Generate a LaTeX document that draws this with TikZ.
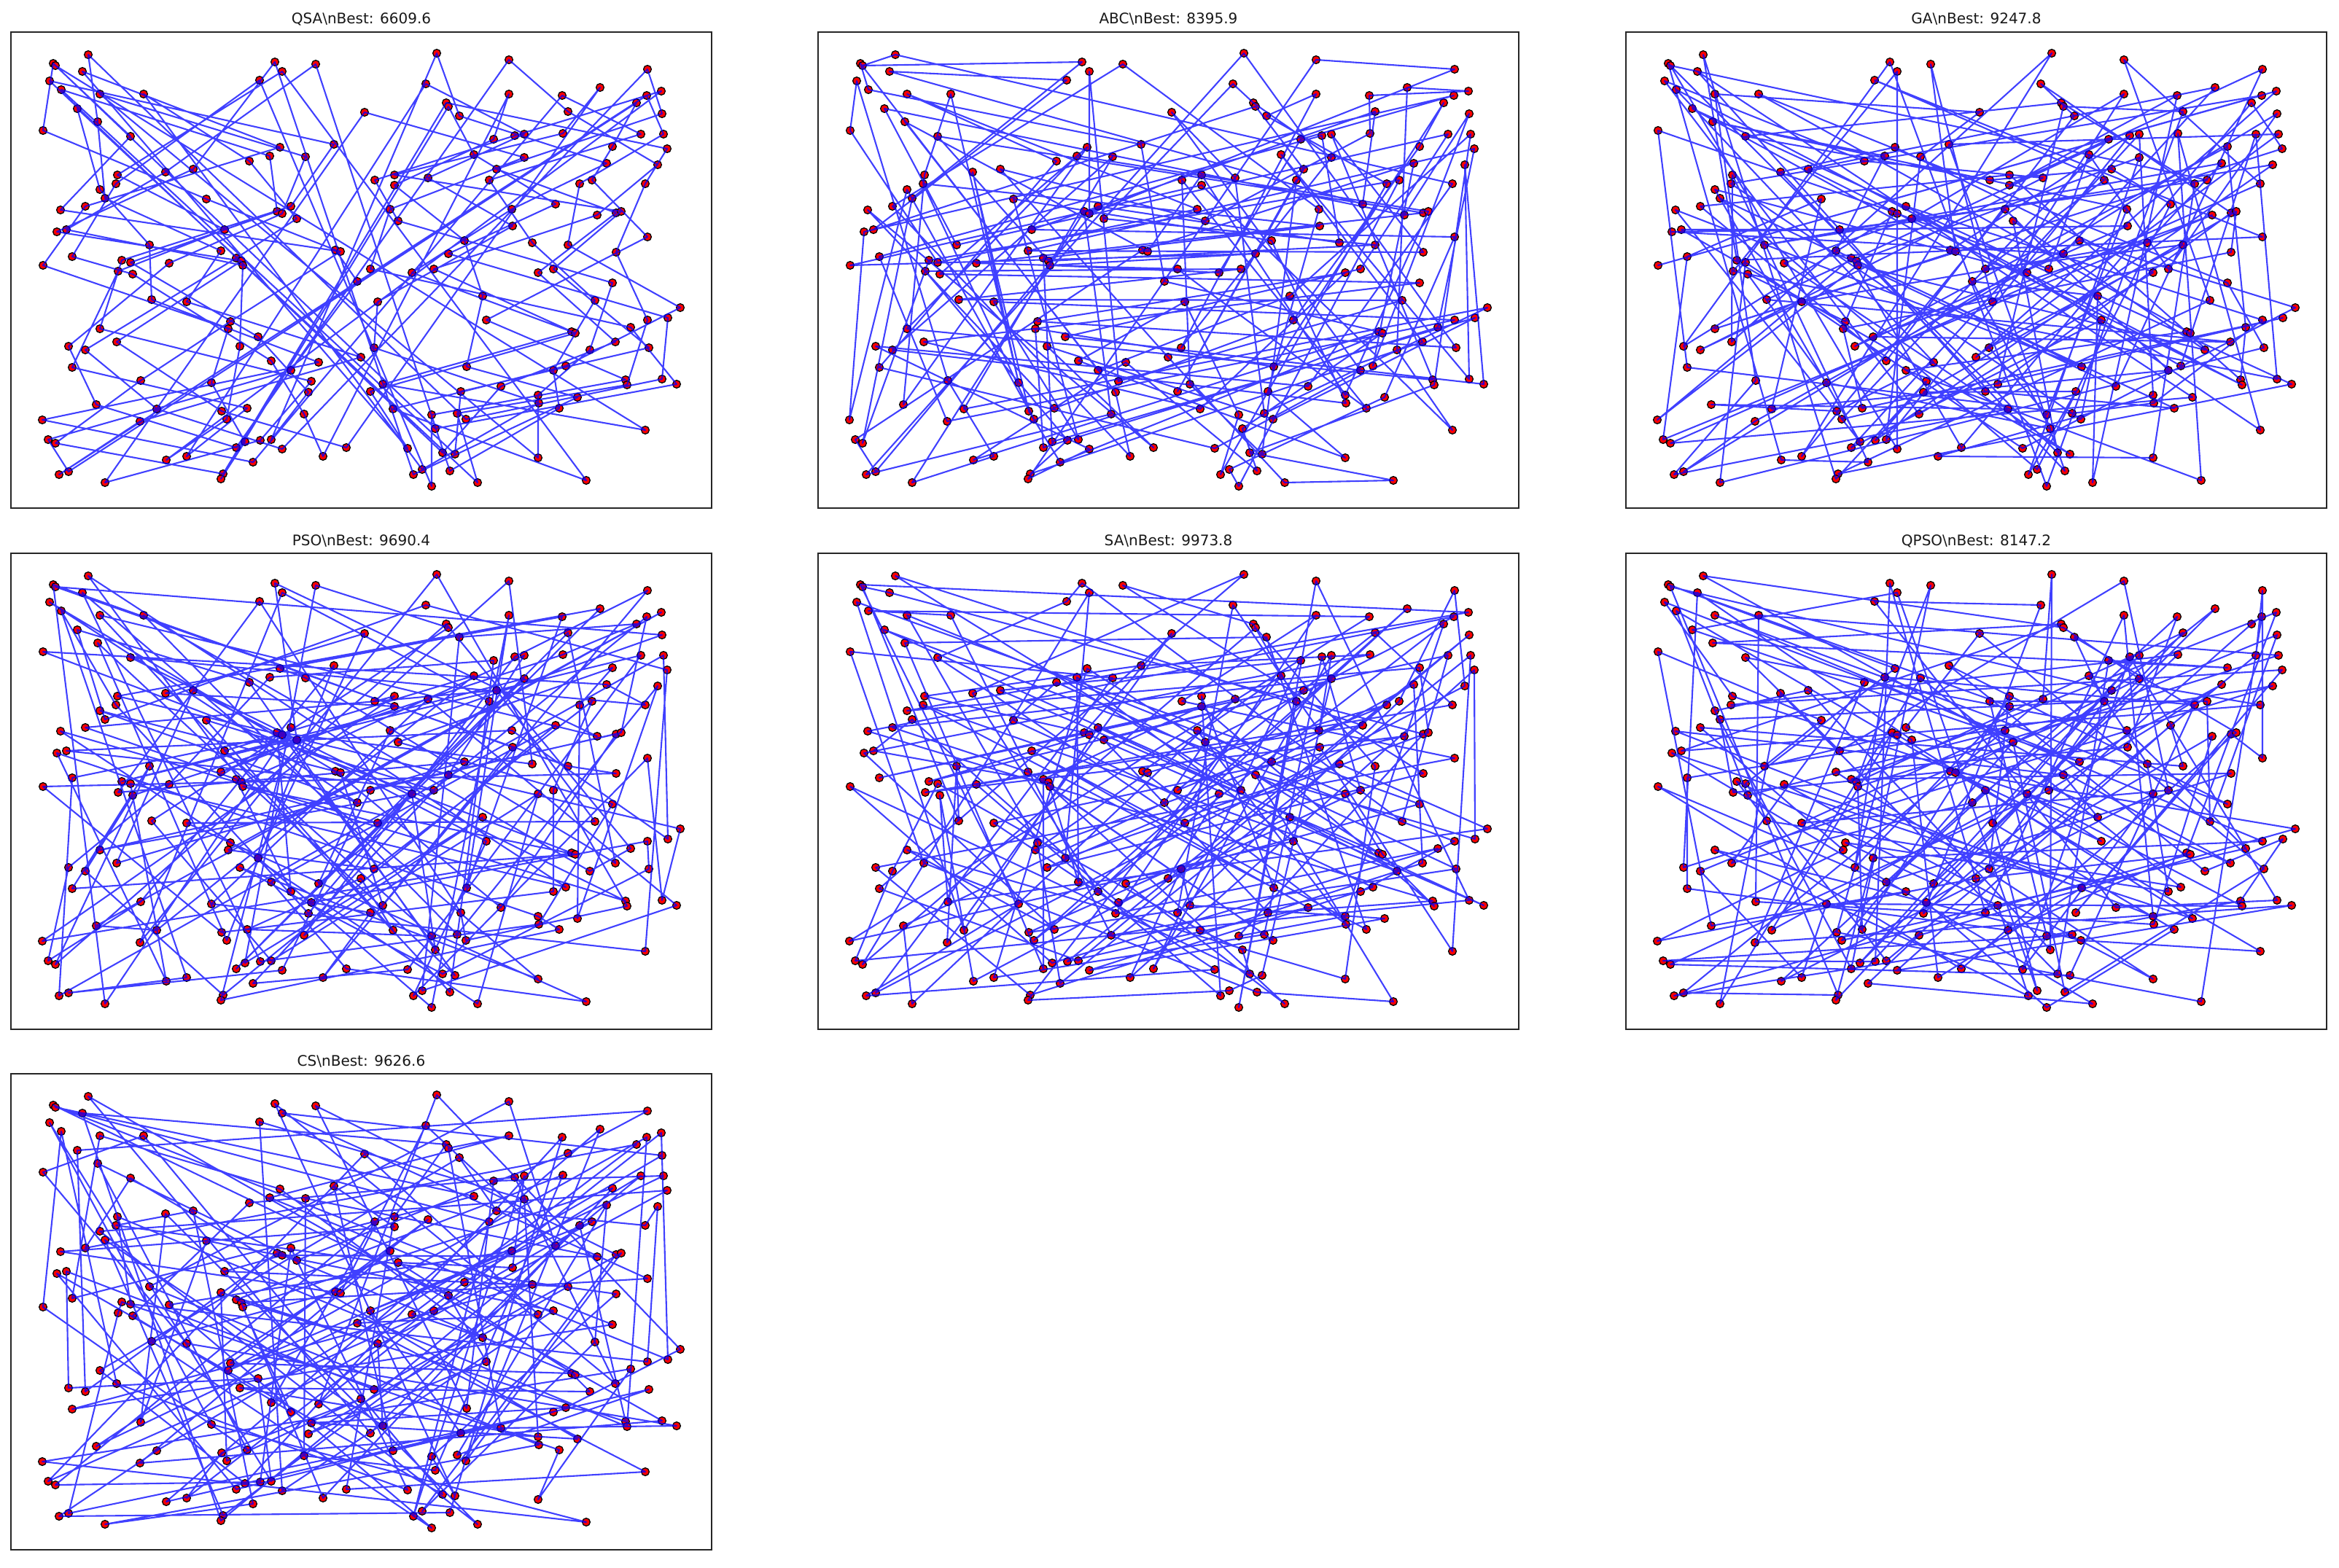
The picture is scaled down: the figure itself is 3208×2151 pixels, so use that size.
\documentclass[tikz,border=0pt]{standalone}
\usepackage{fontspec}
\setmainfont{DejaVu Sans}
\newcount\tcur \newcount\tq \newcount\tk
% multiplicative tour over Z_199 (generator #2 is a primitive root)
\def\multour#1#2{%
  \tcur=1 \tk=0 \edef#1{1}%
  \loop
    \tq=\tcur \multiply\tq by #2 \divide\tq by 199 \multiply\tq by -199
    \multiply\tcur by #2 \advance\tcur by \tq
    \edef#1{#1,\the\tcur}%
    \advance\tk by 1
  \ifnum\tk<197 \repeat}
% additive stride tour over 1..198
\def\addtour#1#2{%
  \tcur=1 \tk=0 \edef#1{1}%
  \loop
    \advance\tcur by #2 \ifnum\tcur>198 \advance\tcur by -198 \fi
    \edef#1{#1,\the\tcur}%
    \advance\tk by 1
  \ifnum\tk<197 \repeat}
\addtour\tourQSA{13}
\multour\tourABC{3}
\multour\tourGA{44}
\multour\tourPSO{48}
\multour\tourSA{134}
\multour\tourQPSO{108}
\multour\tourCS{176}
\def\pts{121/75,73/87,76/90,113/98,68/111,84/123,137/129,197/129,377/85,433/88,387/98,356/110,106/149,134/167,59/179,179/187,384/202,458/198,370/214,419/215,342/221,265/232,227/236,161/240,159/252,137/260,144/272,283/273,83/288,117/283,399/283,380/290,387/293,407/300,78/318,91/315,308/315,99/352,205/336,303/344,460/343,467/345,59/364,167/357,179/360,232/361,324/354,331/358,333/364,162/372,182/376,%
208/411,256/414,490/386,316/441,313/451,137/451,354/462,94/475,117/480,160/469,329/475,99/504,372/495,437/497,495/490,399/508,193/522,290/525,427/523,423/538,132/555,215/561,304/564,311/575,339/560,417/568,58/576,192/578,66/603,76/608,336/606,357/604,372/603,324/614,387/616,475/614,228/631,256/626,443/626,347/634,81/651,94/647,306/650,303/657,144/662,%
599/73,698/82,888/95,823/120,907/125,584/115,698/129,771/131,887/131,873/141,612/141,615/146,500/154,630/159,779/153,908/156,772/183,706/186,719/184,677/191,879/184,910/184,840/201,915/204,650/212,719/216,832/224,902/226,681/232,541/240,514/247,587/244,541/254,671/247,795/252,812/247,885/252,762/280,535/287,702/287,819/295,845/292,852/290,546/303,703/310,637/330,730/333,779/336,888/325,845/346,615/348,508/369,565/374,595/369,738/374,759/369,%
840/388,518/414,662/406,816/412,933/422,667/439,888/439,916/436,865/449,784/455,789/457,844/469,890/477,809/480,513/477,640/503,759/508,776/502,858/521,860/528,908/520,928/527,525/527,508/537,687/530,632/537,738/542,739/553,792/545,767/560,539/561,592/569,627/567,639/575,597/588,885/590,559/615,607/621,624/623,738/628,579/644,567/651,617/646,804/659,592/667,655/662}
\tikzset{
  dot/.style={fill={rgb,255:red,255;green,0;blue,0}, draw=black, line width=0.65pt},
  tour/.style={draw=blue, draw opacity=0.75, line width=1.05pt, line join=round},
  frame/.style={draw=black!85, line width=0.8pt},
  paneltitle/.style={anchor=base, inner sep=0pt, font=\fontsize{10}{12}\selectfont, text=black!90}
}
\newcommand\tsppanel[5]{%
  \begin{scope}[shift={(#2,#3)}]
    \foreach \x/\y [count=\i] in \pts {%
      \coordinate (#1-\i) at (\x,\y);
      \filldraw[dot] (#1-\i) circle[radius=2.7pt];
    }
    \draw[tour] (#1-1) \foreach \n in #5 {-- (#1-\n)} -- cycle;
    \draw[frame] (15,44) rectangle (976,697);
    \node[paneltitle] (#1-title) at (495.5,33) {#4};
  \end{scope}}
\begin{document}
\begin{tikzpicture}[x=0.5pt, y=-0.5pt]
  \path[use as bounding box, fill=white] (0,0) rectangle (3208,2151);
  \tsppanel{QSA}{0}{0}{QSA\textbackslash nBest: 6609.6}{\tourQSA}
  \tsppanel{ABC}{1107}{0}{ABC\textbackslash nBest: 8395.9}{\tourABC}
  \tsppanel{GA}{2215}{0}{GA\textbackslash nBest: 9247.8}{\tourGA}
  \tsppanel{PSO}{0}{715}{PSO\textbackslash nBest: 9690.4}{\tourPSO}
  \tsppanel{SA}{1107}{715}{SA\textbackslash nBest: 9973.8}{\tourSA}
  \tsppanel{QPSO}{2215}{715}{QPSO\textbackslash nBest: 8147.2}{\tourQPSO}
  \tsppanel{CS}{0}{1429}{CS\textbackslash nBest: 9626.6}{\tourCS}
\end{tikzpicture}
\end{document}
